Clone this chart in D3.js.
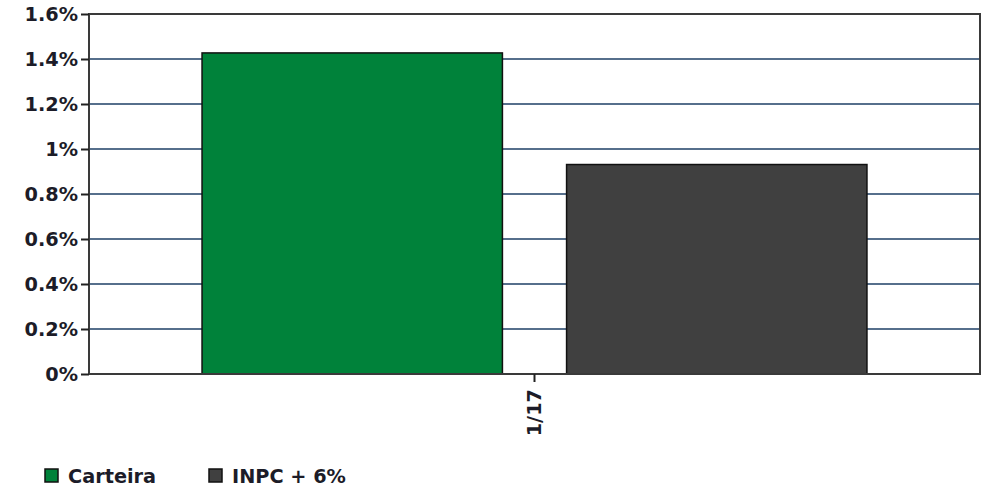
<!DOCTYPE html>
<html><head><meta charset="utf-8">
<script src="https://cdn.jsdelivr.net/npm/d3@7"></script>
<style>body{margin:0;background:#fff}svg{display:block}text{font-family:"DejaVu Sans",sans-serif;fill:#1c1c28;font-weight:bold}</style>
</head><body><svg id="c" width="986" height="488"></svg>
<script>
const categories = ["1/17"];
const seriesNames = ["Carteira", "INPC + 6%"];
const seriesColors = ["#00823a", "#404040"];
const carteira = [1.427];
const inpc = [0.931];
const yTicks = [0, 0.2, 0.4, 0.6, 0.8, 1, 1.2, 1.4, 1.6];

const svg = d3.select("#c");
const m = {l: 89, r: 980, t: 14, b: 374};
const x0 = d3.scaleBand().domain(categories).range([m.l, m.r]).paddingInner(0).paddingOuter(0.17);
const x1 = d3.scaleBand().domain(seriesNames).range([0, x0.bandwidth()]).paddingInner(0.176);
const y = d3.scaleLinear().domain([0, 1.6]).range([m.b, m.t]);
const data = categories.map((c, i) => ({c, vals: [carteira[i], inpc[i]]}));
const fs = "19.3px";

// gridlines
svg.append("g").selectAll("line").data(yTicks.filter(t => t > 0 && t < 1.6)).join("line")
  .attr("x1", m.l).attr("x2", m.r).attr("y1", d => y(d)).attr("y2", d => y(d))
  .attr("stroke", "#566f8c").attr("stroke-width", 2);

// bars
svg.append("g").selectAll("g").data(data).join("g")
  .attr("transform", d => `translate(${x0(d.c)},0)`)
  .selectAll("rect").data(d => d.vals.map((v, i) => ({v, i}))).join("rect")
  .attr("x", d => x1(seriesNames[d.i])).attr("width", x1.bandwidth())
  .attr("y", d => y(d.v)).attr("height", d => y(0) - y(d.v))
  .attr("fill", d => seriesColors[d.i]).attr("stroke", "#111").attr("stroke-width", 1.5);

// frame
svg.append("rect").attr("x", m.l).attr("y", m.t).attr("width", m.r - m.l).attr("height", m.b - m.t)
  .attr("fill", "none").attr("stroke", "#3a3a3a").attr("stroke-width", 2);

// y axis
const ya = svg.append("g").attr("transform", `translate(${m.l},0)`)
  .call(d3.axisLeft(y).tickValues(yTicks).tickSize(8).tickPadding(3).tickFormat(d => d3.format("~g")(+d.toFixed(1)) + "%"));
ya.select(".domain").remove();
ya.selectAll(".tick line").attr("stroke", "#222").attr("stroke-width", 2);
ya.selectAll("text").style("font-size", fs).attr("dy", "0.36em");

// x axis
const xa = svg.append("g").attr("transform", `translate(0,${m.b})`)
  .call(d3.axisBottom(x0).tickSize(8).tickPadding(6));
xa.select(".domain").remove();
xa.selectAll(".tick line").attr("stroke", "#222").attr("stroke-width", 2);
xa.selectAll("text").style("font-size", fs).attr("transform", "rotate(-90)")
  .attr("text-anchor", "end").attr("x", -15).attr("y", 0).attr("dy", "0.36em");

// legend
const lg = svg.append("g").selectAll("g").data(seriesNames).join("g")
  .attr("transform", (d, i) => `translate(${[45, 209][i]},469)`);
lg.append("rect").attr("width", 13).attr("height", 13).attr("fill", (d, i) => seriesColors[i])
  .attr("stroke", "#111").attr("stroke-width", 1.5);
lg.append("text").attr("x", 23).attr("y", 14).style("font-size", fs).text(d => d);
</script></body></html>
